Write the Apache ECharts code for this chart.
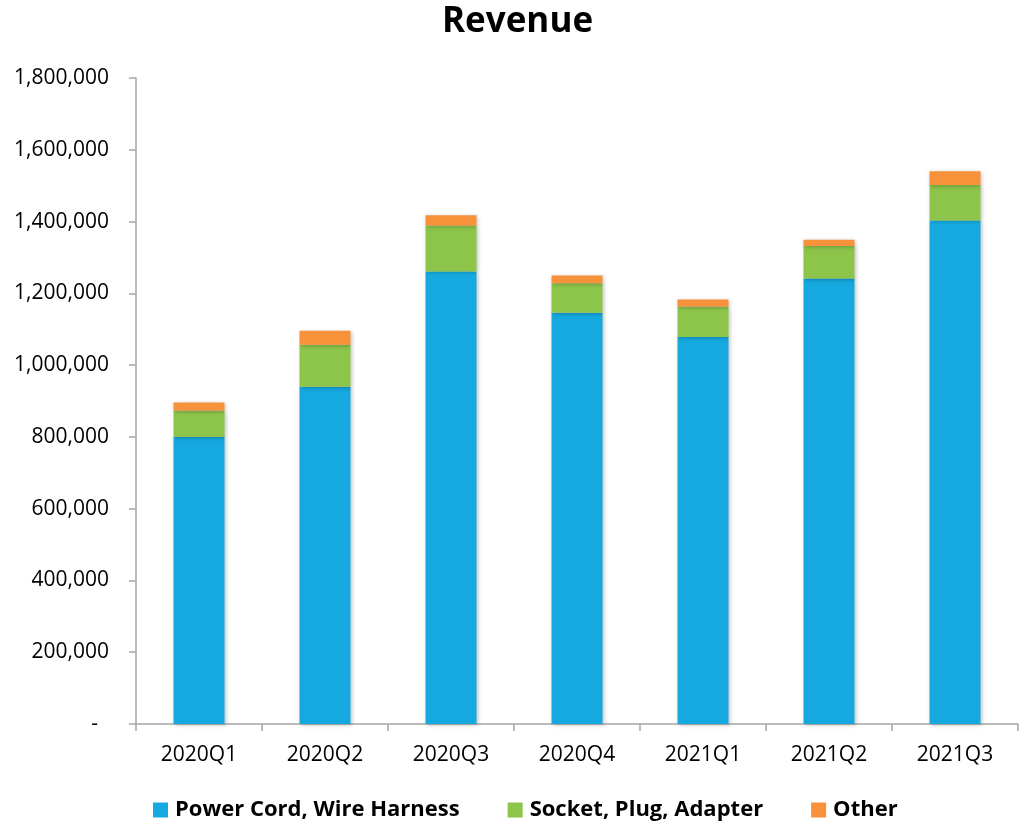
<!DOCTYPE html>
<html>
<head>
<meta charset="utf-8">
<script src="https://cdn.jsdelivr.net/npm/echarts@6/dist/echarts.min.js"></script>
<style>
  html, body { margin: 0; padding: 0; background: #fff; }
  #chart { width: 1019px; height: 823px; }
</style>
</head>
<body>
<div id="chart"></div>
<script>
// quarters
const quarters = ['2020Q1', '2020Q2', '2020Q3', '2020Q4', '2021Q1', '2021Q2', '2021Q3'];
// revenue by product line
const powerCord = [800000, 940000, 1261000, 1146000, 1078000, 1241000, 1403000];
const socketPlug = [73500, 117000, 128000, 82000, 85000, 91000, 99000];
const other = [22000, 39000, 28500, 21500, 19500, 17500, 38000];

const seriesNames = ['Power Cord, Wire Harness', 'Socket, Plug, Adapter', 'Other'];
const colors = ['#15a9e0', '#8dc54b', '#f7923a'];
const font = '"Open Sans", sans-serif';

let chart = echarts.init(document.getElementById('chart'));

function fmt(v) {
  if (v === 0) return '-  ';
  return v.toString().replace(/\B(?=(\d{3})+(?!\d))/g, ',');
}

function makeSeries(name, data, color) {
  return {
    name: name,
    type: 'bar',
    stack: 'total',
    barWidth: 51,
    data: data,
    itemStyle: {
      color: color,
      shadowColor: 'rgba(0,0,0,0.25)',
      shadowBlur: 4,
      shadowOffsetX: 1,
      shadowOffsetY: 1
    }
  };
}

chart.setOption({
  animation: false,
  color: colors,
  title: {
    text: 'Revenue',
    left: 437,
    top: 0,
    textStyle: { fontFamily: font, fontSize: 35, fontWeight: 'bold', color: '#000' }
  },
  legend: {
    data: seriesNames,
    bottom: 2,
    left: 153,
    padding: 0,
    itemWidth: 15,
    itemHeight: 15,
    itemGap: 48,
    icon: 'rect',
    textStyle: { fontFamily: font, fontSize: 22, fontWeight: 'bold', color: '#000', padding: [0, 0, 0, 2] }
  },
  grid: { left: 136, right: 1, top: 78, bottom: 99, containLabel: false },
  xAxis: {
    type: 'category',
    data: quarters,
    boundaryGap: true,
    axisLine: { lineStyle: { color: '#a6a6a6', width: 1.5 } },
    axisTick: { show: true, length: 7, lineStyle: { color: '#a6a6a6', width: 1.5 } },
    axisLabel: { fontFamily: font, fontSize: 21, color: '#000', margin: 21 }
  },
  yAxis: {
    type: 'value',
    min: 0,
    max: 1800000,
    interval: 200000,
    splitLine: { show: false },
    axisLine: { show: true, lineStyle: { color: '#a6a6a6', width: 1.5 } },
    axisTick: { show: true, length: 7, lineStyle: { color: '#a6a6a6', width: 1.5 } },
    axisLabel: { fontFamily: font, fontSize: 21, color: '#000', margin: 27, formatter: fmt }
  },
  series: [
    makeSeries(seriesNames[0], powerCord, colors[0]),
    makeSeries(seriesNames[1], socketPlug, colors[1]),
    makeSeries(seriesNames[2], other, colors[2])
  ]
});
</script>
</body>
</html>
